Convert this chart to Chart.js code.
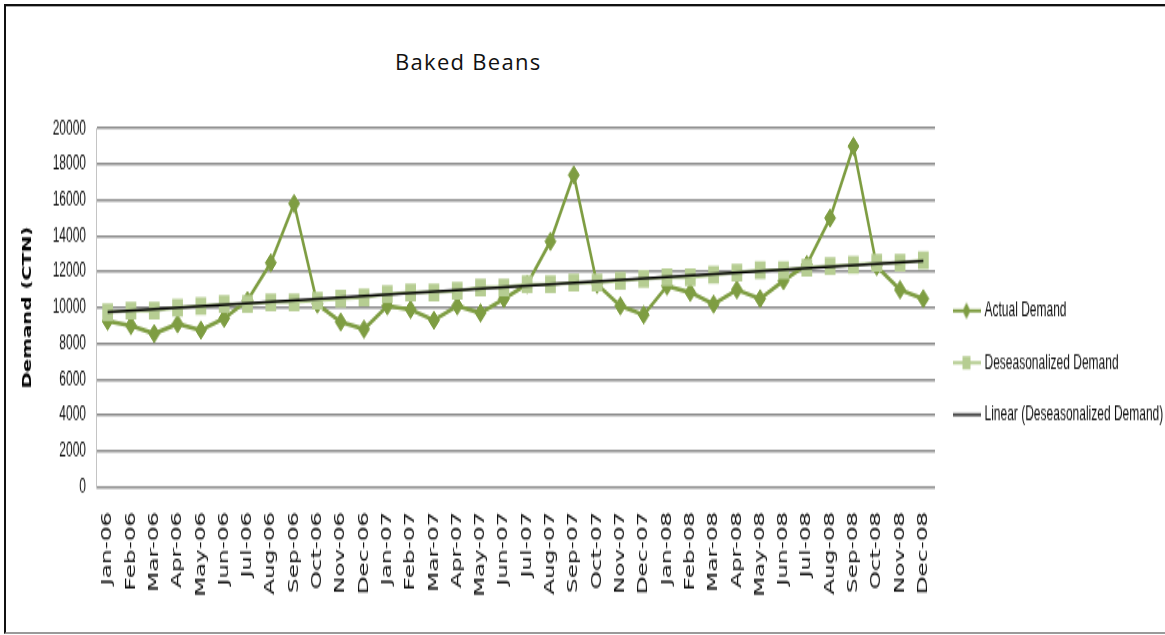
<!DOCTYPE html>
<html>
<head>
<meta charset="utf-8">
<title>Baked Beans</title>
<script src="https://cdn.jsdelivr.net/npm/chart.js@4/dist/chart.umd.min.js"></script>
<style>
    html, body { margin: 0; padding: 0; background: #fff; }
    body { width: 1165px; height: 635px; position: relative; overflow: hidden; }
    #frame {
        position: absolute; left: 4px; top: 4px; width: 1180px; height: 626px;
        border-top: 2px solid #111; border-left: 2px solid #111; border-bottom: 2px solid #9a9a9a;
        box-shadow: inset 0 1px 0 #aaa;
    }
    #title {
        position: absolute; left: 395px; top: 46px;
        font-family: "Open Sans", sans-serif; font-size: 22px; letter-spacing: 1.3px; color: #111;
    }
    /* the source picture is stretched vertically, so the chart is drawn flat and scaled */
    #wrap { position: absolute; left: 0; top: 100px; width: 1165px; height: 302px; transform: scaleY(1.65); transform-origin: 0 0; }
</style>
</head>
<body>
<div id="frame"></div>
<div id="title">Baked Beans</div>
<div id="wrap"><canvas id="chart" width="1165" height="302"></canvas></div>
<script>
const months = [
    'Jan-06', 'Feb-06', 'Mar-06', 'Apr-06', 'May-06', 'Jun-06', 'Jul-06', 'Aug-06', 'Sep-06', 'Oct-06', 'Nov-06', 'Dec-06',
    'Jan-07', 'Feb-07', 'Mar-07', 'Apr-07', 'May-07', 'Jun-07', 'Jul-07', 'Aug-07', 'Sep-07', 'Oct-07', 'Nov-07', 'Dec-07',
    'Jan-08', 'Feb-08', 'Mar-08', 'Apr-08', 'May-08', 'Jun-08', 'Jul-08', 'Aug-08', 'Sep-08', 'Oct-08', 'Nov-08', 'Dec-08'
];

const actualDemand = [
    9250, 9000, 8550, 9100, 8750, 9400, 10400, 12500, 15800, 10200, 9200, 8800,
    10100, 9900, 9300, 10100, 9700, 10500, 11300, 13700, 17400, 11300, 10100, 9600,
    11200, 10850, 10200, 11000, 10500, 11500, 12400, 15000, 19000, 12300, 11000, 10500
];

const deseasonalizedDemand = [
    9750, 9830, 9830, 10000, 10100, 10200, 10200, 10300, 10300, 10400, 10500, 10570,
    10760, 10850, 10850, 10940, 11130, 11130, 11300, 11300, 11400, 11400, 11500, 11600,
    11700, 11700, 11830, 11960, 12100, 12100, 12240, 12330, 12390, 12500, 12500, 12650
];

// end points of the linear trend line
const trendStart = 9750;
const trendEnd = 12600;

const seriesNames = ['Actual Demand', 'Deseasonalized Demand', 'Linear (Deseasonalized Demand)'];
const yMin = 0, yMax = 20000, yStep = 2000;

const green = '#7e9d42';
const lightGreen = '#b6cd92';

function makeIcon(color, lineWidth, marker) {
    const c = document.createElement('canvas');
    c.width = 28;
    c.height = 14;
    const ctx = c.getContext('2d');
    ctx.strokeStyle = color;
    ctx.lineWidth = lineWidth;
    ctx.beginPath();
    ctx.moveTo(0, 7);
    ctx.lineTo(28, 7);
    ctx.stroke();
    ctx.fillStyle = color;
    if (marker === 'diamond') {
        ctx.beginPath();
        ctx.moveTo(14, 2); ctx.lineTo(18, 7); ctx.lineTo(14, 12); ctx.lineTo(10, 7);
        ctx.closePath();
        ctx.fill();
    } else if (marker === 'square') {
        ctx.fillRect(10, 3, 8, 8);
    }
    return c;
}

const legendIcons = [
    makeIcon(green, 2, 'diamond'),
    makeIcon(lightGreen, 2, 'square'),
    makeIcon('#000', 1.4, null)
];

const ctx = document.getElementById('chart').getContext('2d');
new Chart(ctx, {
    type: 'line',
    data: {
        labels: months,
        datasets: [
            {
                label: seriesNames[0],
                data: actualDemand,
                borderColor: green,
                borderWidth: 2.6,
                pointStyle: 'rectRot',
                pointRadius: 5.5,
                pointBackgroundColor: green,
                pointBorderColor: green,
                pointBorderWidth: 1,
                tension: 0,
                order: 3,
            },
            {
                label: seriesNames[1],
                data: deseasonalizedDemand,
                borderColor: lightGreen,
                borderWidth: 2,
                pointStyle: 'rect',
                pointRadius: 7.6,
                pointBackgroundColor: lightGreen,
                pointBorderColor: lightGreen,
                pointBorderWidth: 0,
                tension: 0,
                order: 2,
            },
            {
                label: seriesNames[2],
                data: [
                    { x: months[0], y: trendStart },
                    { x: months[months.length - 1], y: trendEnd }
                ],
                borderColor: '#000',
                borderWidth: 1.5,
                pointRadius: 0,
                tension: 0,
                order: 1,
            },
        ]
    },
    options: {
        responsive: false,
        animation: false,
        devicePixelRatio: 1,
        layout: { padding: { top: 16.4, left: 0, right: 0, bottom: 0 } },
        plugins: {
            tooltip: { enabled: false },
            legend: {
                position: 'right',
                align: 'center',
                maxWidth: 230,
                labels: {
                    usePointStyle: true,
                    pointStyleWidth: 24,
                    padding: 19.5,
                    color: '#111',
                    font: { family: '"Liberation Sans", Arial, sans-serif', size: 12 },
                    generateLabels: (chart) => {
                        const items = Chart.defaults.plugins.legend.labels.generateLabels(chart);
                        items.sort((a, b) => a.datasetIndex - b.datasetIndex);
                        items.forEach(item => { item.pointStyle = legendIcons[item.datasetIndex]; });
                        return items;
                    }
                }
            }
        },
        scales: {
            x: {
                offset: true,
                grid: { display: false, drawTicks: false },
                border: { display: false },
                ticks: {
                    autoSkip: false,
                    minRotation: 90,
                    maxRotation: 90,
                    padding: 15,
                    color: '#111',
                    font: { family: '"DejaVu Sans", Verdana, sans-serif', size: 14 }
                },
                afterFit: (scale) => { scale.height = 67.5; }
            },
            y: {
                min: yMin,
                max: yMax,
                grid: { color: '#8c8c8c', lineWidth: 1.6, drawTicks: false },
                border: { display: true, color: '#c4c4c4', width: 1 },
                ticks: {
                    stepSize: yStep,
                    padding: 10,
                    color: '#111',
                    font: { family: '"Liberation Sans", Arial, sans-serif', size: 12 },
                    callback: (value) => String(value)
                },
                title: {
                    display: true,
                    text: 'Demand (CTN)',
                    color: '#000',
                    padding: { top: 21, bottom: 0 },
                    font: { family: '"DejaVu Sans", sans-serif', size: 12, weight: 'bold' }
                },
                afterFit: (scale) => { scale.width = 96; }
            }
        }
    }
});
</script>
</body>
</html>
